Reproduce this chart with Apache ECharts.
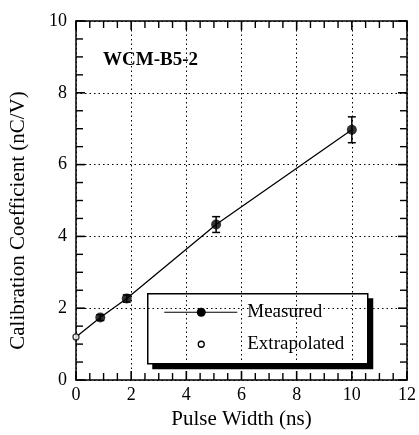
<!DOCTYPE html>
<html>
<head>
<meta charset="utf-8">
<script src="https://cdn.jsdelivr.net/npm/echarts@6/dist/echarts.min.js"></script>
<style>
  html, body { margin: 0; padding: 0; background: #fff; }
  #chart { width: 419px; height: 435px; }
</style>
</head>
<body>
<div id="chart"></div>
<script>
// values
var measuredX = [0.88, 1.84, 5.08, 10]
var measuredY = [1.74, 2.27, 4.33, 6.97]
var measuredErr = [0.08, 0.1, 0.22, 0.36]
var extrapX = [0]
var extrapY = [1.2]
var xTicks = [0, 2, 4, 6, 8, 10, 12]
var yTicks = [0, 2, 4, 6, 8, 10]
var xMinor = [0.5, 1, 1.5, 2.5, 3, 3.5, 4.5, 5, 5.5, 6.5, 7, 7.5, 8.5, 9, 9.5, 10.5, 11, 11.5]
var yMinor = [0.5, 1, 1.5, 2.5, 3, 3.5, 4.5, 5, 5.5, 6.5, 7, 7.5, 8.5, 9, 9.5]

var serif = '"Liberation Serif", "Times New Roman", serif'
var xMin = xTicks[0], xMax = xTicks[xTicks.length - 1]
var yMin = yTicks[0], yMax = yTicks[yTicks.length - 1]

var measured = measuredX.map(function (x, i) { return [x, measuredY[i]] })
var extrap = extrapX.map(function (x, i) { return [x, extrapY[i]] })
var lineData = extrap.concat(measured)
var errData = measuredX.map(function (x, i) {
  return [x, measuredY[i] - measuredErr[i], measuredY[i] + measuredErr[i]]
})

// inward ticks on all four sides: [value, 0 = x / 1 = y, length]
var tickData = []
xTicks.forEach(function (v) { tickData.push([v, 0, 9]) })
xMinor.forEach(function (v) { tickData.push([v, 0, 7]) })
yTicks.forEach(function (v) { tickData.push([v, 1, 9]) })
yMinor.forEach(function (v) { tickData.push([v, 1, 7]) })

function line () {
  return { show: true, onZero: false, lineStyle: { color: '#000', width: 1.5 } }
}
function grid () {
  return { show: true, lineStyle: { color: '#000', type: [1.5, 3], width: 1 } }
}

var chart = echarts.init(document.getElementById('chart'))
chart.setOption({
  animation: false,
  grid: { left: 73, right: 10, top: 21, bottom: 53 },
  xAxis: [
    {
      type: 'value', min: xMin, max: xMax, interval: 2, position: 'bottom',
      name: 'Pulse Width (ns)',
      nameLocation: 'middle',
      nameGap: 29,
      nameTextStyle: { fontFamily: serif, fontSize: 21, color: '#000' },
      axisLine: line(), axisTick: { show: false }, splitLine: grid(),
      axisLabel: { margin: 6, fontFamily: serif, fontSize: 18, color: '#000' }
    },
    {
      type: 'value', min: xMin, max: xMax, interval: 2, position: 'top',
      axisLine: line(), axisTick: { show: false }, splitLine: { show: false },
      axisLabel: { show: false }
    }
  ],
  yAxis: [
    {
      type: 'value', min: yMin, max: yMax, interval: 2, position: 'left',
      name: 'Calibration Coefficient (nC/V)',
      nameLocation: 'middle',
      nameGap: 47,
      nameTextStyle: { fontFamily: serif, fontSize: 21, color: '#000', padding: [0, 40, 0, 0] },
      axisLine: line(), axisTick: { show: false }, splitLine: grid(),
      axisLabel: { margin: 9, fontFamily: serif, fontSize: 18, color: '#000' }
    },
    {
      type: 'value', min: yMin, max: yMax, interval: 2, position: 'right',
      axisLine: line(), axisTick: { show: false }, splitLine: { show: false },
      axisLabel: { show: false }
    }
  ],
  graphic: [
    {
      type: 'text', left: 103, top: 51, z: 100,
      style: { text: 'WCM-B5-2', font: 'bold 19px ' + serif, fill: '#000' }
    },
    {
      type: 'group', left: 147, top: 293, z: 100,
      children: [
        { type: 'rect', shape: { x: 5, y: 5, width: 221, height: 71 }, style: { fill: '#000' } },
        { type: 'rect', shape: { x: 0.5, y: 0.5, width: 220, height: 70 }, style: { fill: '#fff', stroke: '#000', lineWidth: 1.5 } },
        { type: 'line', shape: { x1: 17, y1: 19, x2: 90, y2: 19 }, style: { stroke: '#000', lineWidth: 1.2 } },
        { type: 'circle', shape: { cx: 54, cy: 19, r: 4.5 }, style: { fill: '#000' } },
        { type: 'text', x: 100, y: 19, style: { text: 'Measured', font: '19px ' + serif, fill: '#000', verticalAlign: 'middle' } },
        { type: 'circle', shape: { cx: 54, cy: 51, r: 3 }, style: { fill: '#fff', stroke: '#000', lineWidth: 1.3 } },
        { type: 'text', x: 100, y: 51, style: { text: 'Extrapolated', font: '19px ' + serif, fill: '#000', verticalAlign: 'middle' } }
      ]
    }
  ],
  series: [
    {
      // axis ticks, pointing into the plot on every side
      type: 'custom',
      data: tickData,
      clip: false,
      z: 5,
      renderItem: function (params, api) {
        var v = api.value(0)
        var len = api.value(2)
        var st = { stroke: '#000', lineWidth: len > 8 ? 1.6 : 1.4 }
        var a, b
        if (api.value(1) === 0) {
          a = api.coord([v, yMin])
          b = api.coord([v, yMax])
          return {
            type: 'group',
            children: [
              { type: 'line', shape: { x1: a[0], y1: a[1], x2: a[0], y2: a[1] - len }, style: st },
              { type: 'line', shape: { x1: b[0], y1: b[1], x2: b[0], y2: b[1] + len }, style: st }
            ]
          }
        }
        a = api.coord([xMin, v])
        b = api.coord([xMax, v])
        return {
          type: 'group',
          children: [
            { type: 'line', shape: { x1: a[0], y1: a[1], x2: a[0] + len, y2: a[1] }, style: st },
            { type: 'line', shape: { x1: b[0], y1: b[1], x2: b[0] - len, y2: b[1] }, style: st }
          ]
        }
      }
    },
    {
      type: 'line',
      data: lineData,
      symbol: 'none',
      lineStyle: { color: '#000', width: 1.3 },
      z: 2
    },
    {
      type: 'custom',
      data: errData,
      z: 3,
      renderItem: function (params, api) {
        var lo = api.coord([api.value(0), api.value(1)])
        var hi = api.coord([api.value(0), api.value(2)])
        var w = 4
        var st = { stroke: '#000', lineWidth: 1.5 }
        return {
          type: 'group',
          children: [
            { type: 'line', shape: { x1: lo[0], y1: lo[1], x2: hi[0], y2: hi[1] }, style: st },
            { type: 'line', shape: { x1: lo[0] - w, y1: lo[1], x2: lo[0] + w, y2: lo[1] }, style: st },
            { type: 'line', shape: { x1: hi[0] - w, y1: hi[1], x2: hi[0] + w, y2: hi[1] }, style: st }
          ]
        }
      }
    },
    {
      type: 'scatter',
      data: measured,
      symbol: 'circle',
      symbolSize: 10,
      itemStyle: { color: '#000' },
      z: 4
    },
    {
      type: 'scatter',
      data: extrap,
      symbol: 'circle',
      symbolSize: 6,
      itemStyle: { color: '#fff', borderColor: '#000', borderWidth: 1.3 },
      z: 4
    }
  ]
})
</script>
</body>
</html>
